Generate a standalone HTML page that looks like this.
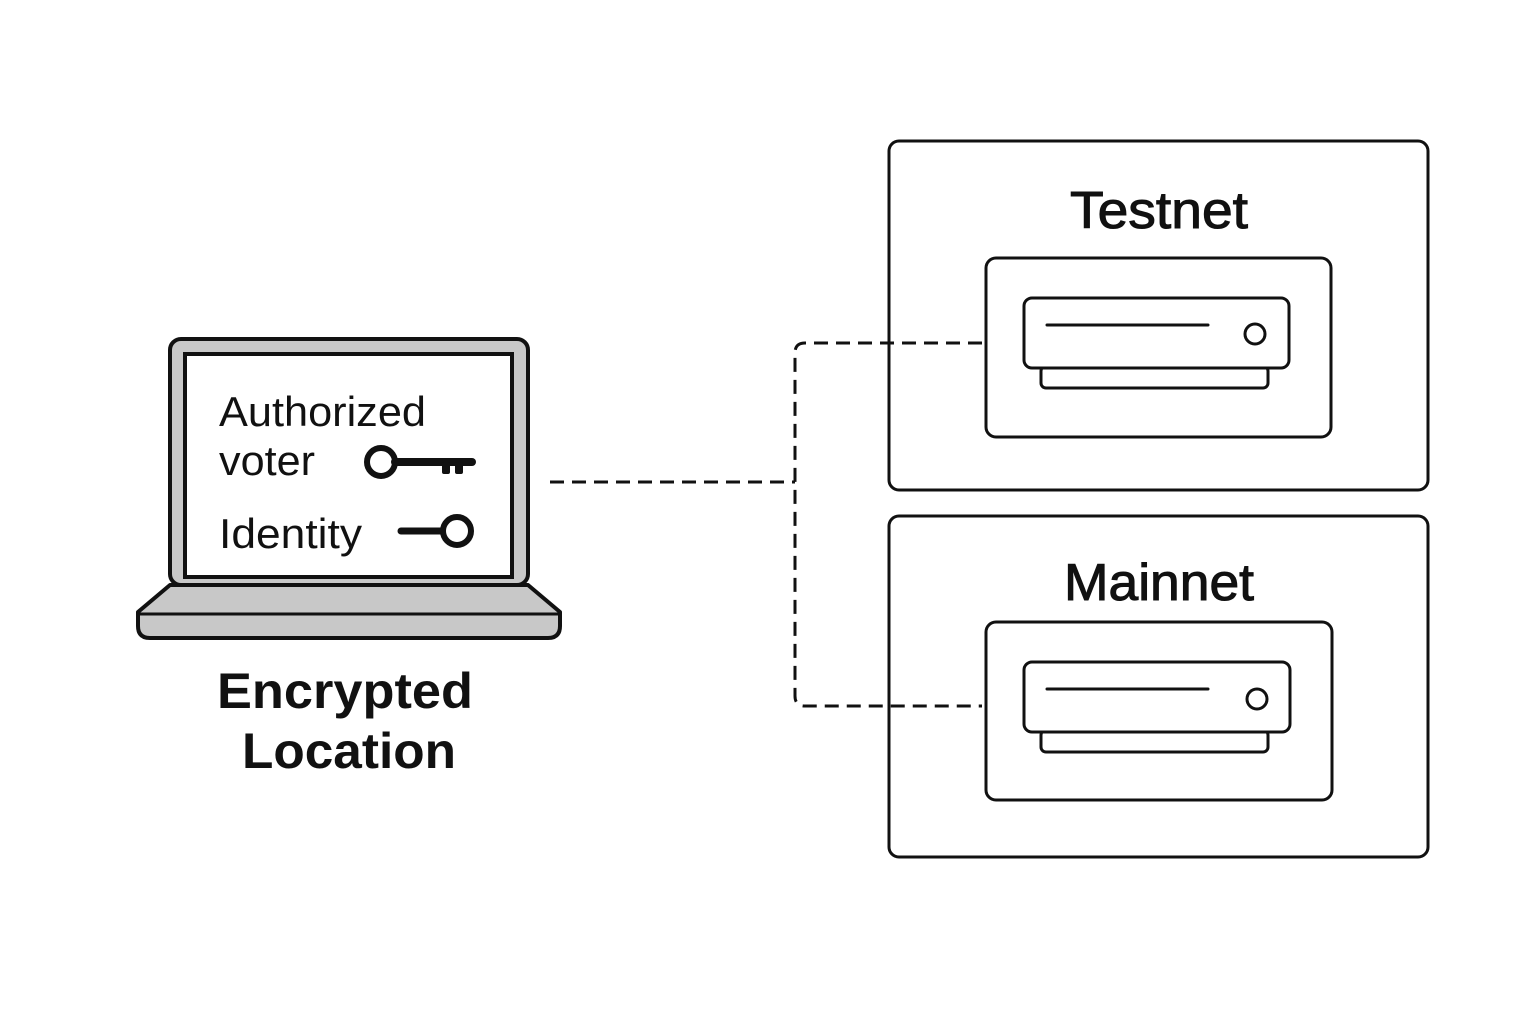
<!DOCTYPE html>
<html><head><meta charset="utf-8"><style>
html,body{margin:0;padding:0;background:#fff;}
svg{display:block;}
text{font-family:"Liberation Sans",sans-serif;fill:#111;}
</style></head><body>
<svg width="1536" height="1024" viewBox="0 0 1536 1024" xmlns="http://www.w3.org/2000/svg">
<rect width="1536" height="1024" fill="#fff"/>
<!-- laptop -->
<rect x="170" y="339" width="358" height="246" rx="11" fill="#c8c8c8" stroke="#111" stroke-width="4"/>
<rect x="185" y="354" width="327" height="223" fill="#fff" stroke="#111" stroke-width="4"/>
<path d="M170 585 L528 585 L560 612 L560 626 Q560 638 548 638 L150 638 Q138 638 138 626 L138 612 Z" fill="#c8c8c8" stroke="#111" stroke-width="4" stroke-linejoin="round"/>
<line x1="138" y1="614" x2="560" y2="614" stroke="#111" stroke-width="3"/>
<text x="219" y="426" font-size="42" textLength="207" lengthAdjust="spacingAndGlyphs">Authorized</text>
<text x="219" y="475" font-size="42" textLength="96" lengthAdjust="spacingAndGlyphs">voter</text>
<text x="219" y="548" font-size="42" textLength="143" lengthAdjust="spacingAndGlyphs">Identity</text>
<!-- key 1 -->
<circle cx="381" cy="462" r="14" fill="#fff" stroke="#111" stroke-width="6"/>
<line x1="395" y1="462" x2="472" y2="462" stroke="#111" stroke-width="8" stroke-linecap="round"/>
<rect x="442" y="462" width="8" height="12" rx="2" fill="#111"/>
<rect x="455" y="462" width="8" height="12" rx="2" fill="#111"/>
<!-- key 2 -->
<line x1="401" y1="531" x2="443" y2="531" stroke="#111" stroke-width="7" stroke-linecap="round"/>
<circle cx="457" cy="531" r="14" fill="#fff" stroke="#111" stroke-width="6"/>
<text x="217" y="708" font-size="50" font-weight="bold" textLength="256" lengthAdjust="spacingAndGlyphs">Encrypted</text>
<text x="242" y="768" font-size="50" font-weight="bold" textLength="214" lengthAdjust="spacingAndGlyphs">Location</text>
<!-- dashed connectors -->
<g fill="none" stroke="#111" stroke-width="3" stroke-dasharray="14 8">
<path d="M550 482 L795 482"/>
<path d="M982 343 L805 343 Q795 343 795 353 L795 696 Q795 706 805 706 L982 706"/>
</g>
<!-- Testnet -->
<rect x="889" y="141" width="539" height="349" rx="10" fill="none" stroke="#111" stroke-width="3"/>
<text x="1070" y="228" font-size="52" stroke="#111" stroke-width="1" textLength="178" lengthAdjust="spacingAndGlyphs">Testnet</text>
<rect x="986" y="258" width="345" height="179" rx="10" fill="#fff" stroke="#111" stroke-width="3"/>
<rect x="1041" y="366" width="227" height="22" rx="5" fill="#fff" stroke="#111" stroke-width="3"/>
<rect x="1024" y="298" width="265" height="70" rx="8" fill="#fff" stroke="#111" stroke-width="3"/>
<line x1="1047" y1="325" x2="1208" y2="325" stroke="#111" stroke-width="3" stroke-linecap="round"/>
<circle cx="1255" cy="334" r="10" fill="none" stroke="#111" stroke-width="3"/>
<!-- Mainnet -->
<rect x="889" y="516" width="539" height="341" rx="10" fill="none" stroke="#111" stroke-width="3"/>
<text x="1064" y="600" font-size="52" stroke="#111" stroke-width="1" textLength="190" lengthAdjust="spacingAndGlyphs">Mainnet</text>
<rect x="986" y="622" width="346" height="178" rx="10" fill="#fff" stroke="#111" stroke-width="3"/>
<rect x="1041" y="730" width="227" height="22" rx="5" fill="#fff" stroke="#111" stroke-width="3"/>
<rect x="1024" y="662" width="266" height="70" rx="8" fill="#fff" stroke="#111" stroke-width="3"/>
<line x1="1047" y1="689" x2="1208" y2="689" stroke="#111" stroke-width="3" stroke-linecap="round"/>
<circle cx="1257" cy="699" r="10" fill="none" stroke="#111" stroke-width="3"/>
</svg>
</body></html>
